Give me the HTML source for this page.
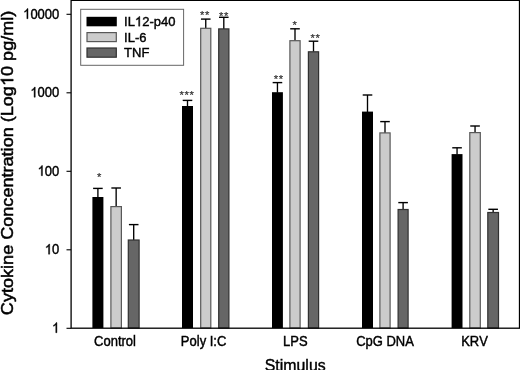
<!DOCTYPE html>
<html><head><meta charset="utf-8"><title>chart</title>
<style>
html,body{margin:0;padding:0;background:#fff;}
body{width:520px;height:370px;overflow:hidden;}
svg{display:block;font-family:"Liberation Sans",sans-serif;filter:grayscale(1) blur(0.3px);}
text{font-kerning:none;stroke:#000;stroke-width:4.0;}
</style></head><body>
<svg width="520" height="370" viewBox="0 0 520 370">
<rect x="0" y="0" width="520" height="370" fill="#fff"/>

<line x1="97.90" y1="188.40" x2="97.90" y2="197.50" stroke="#000" stroke-width="1.35"/>
<line x1="93.10" y1="188.40" x2="102.70" y2="188.40" stroke="#000" stroke-width="1.4"/>
<rect x="92.40" y="197.00" width="11.00" height="131.00" fill="#000"/>
<line x1="116.15" y1="188.00" x2="116.15" y2="206.60" stroke="#000" stroke-width="1.35"/>
<line x1="111.35" y1="188.00" x2="120.95" y2="188.00" stroke="#000" stroke-width="1.4"/>
<rect x="110.90" y="206.60" width="10.50" height="121.40" fill="#cccccc" stroke="#585858" stroke-width="1.2"/>
<line x1="133.70" y1="224.60" x2="133.70" y2="240.00" stroke="#000" stroke-width="1.35"/>
<line x1="128.90" y1="224.60" x2="138.50" y2="224.60" stroke="#000" stroke-width="1.4"/>
<rect x="128.30" y="240.00" width="10.80" height="88.00" fill="#666666" stroke="#303030" stroke-width="1.2"/>
<line x1="187.50" y1="100.40" x2="187.50" y2="106.50" stroke="#000" stroke-width="1.35"/>
<line x1="182.70" y1="100.40" x2="192.30" y2="100.40" stroke="#000" stroke-width="1.4"/>
<rect x="182.00" y="106.00" width="11.00" height="222.00" fill="#000"/>
<line x1="205.75" y1="19.10" x2="205.75" y2="28.30" stroke="#000" stroke-width="1.35"/>
<line x1="200.95" y1="19.10" x2="210.55" y2="19.10" stroke="#000" stroke-width="1.4"/>
<rect x="200.70" y="28.30" width="10.10" height="299.70" fill="#cccccc" stroke="#585858" stroke-width="1.2"/>
<line x1="223.80" y1="17.30" x2="223.80" y2="28.90" stroke="#000" stroke-width="1.35"/>
<line x1="219.00" y1="17.30" x2="228.60" y2="17.30" stroke="#000" stroke-width="1.4"/>
<rect x="218.70" y="28.90" width="10.20" height="299.10" fill="#666666" stroke="#303030" stroke-width="1.2"/>
<line x1="277.45" y1="82.60" x2="277.45" y2="92.70" stroke="#000" stroke-width="1.35"/>
<line x1="272.65" y1="82.60" x2="282.25" y2="82.60" stroke="#000" stroke-width="1.4"/>
<rect x="272.00" y="92.20" width="10.90" height="235.80" fill="#000"/>
<line x1="295.00" y1="28.80" x2="295.00" y2="40.70" stroke="#000" stroke-width="1.35"/>
<line x1="290.20" y1="28.80" x2="299.80" y2="28.80" stroke="#000" stroke-width="1.4"/>
<rect x="289.90" y="40.70" width="10.20" height="287.30" fill="#cccccc" stroke="#585858" stroke-width="1.2"/>
<line x1="313.50" y1="41.20" x2="313.50" y2="51.80" stroke="#000" stroke-width="1.35"/>
<line x1="308.70" y1="41.20" x2="318.30" y2="41.20" stroke="#000" stroke-width="1.4"/>
<rect x="308.40" y="51.80" width="10.20" height="276.20" fill="#666666" stroke="#303030" stroke-width="1.2"/>
<line x1="367.50" y1="95.00" x2="367.50" y2="112.10" stroke="#000" stroke-width="1.35"/>
<line x1="362.70" y1="95.00" x2="372.30" y2="95.00" stroke="#000" stroke-width="1.4"/>
<rect x="362.00" y="111.60" width="11.00" height="216.40" fill="#000"/>
<line x1="385.00" y1="121.60" x2="385.00" y2="132.90" stroke="#000" stroke-width="1.35"/>
<line x1="380.20" y1="121.60" x2="389.80" y2="121.60" stroke="#000" stroke-width="1.4"/>
<rect x="379.90" y="132.90" width="10.20" height="195.10" fill="#cccccc" stroke="#585858" stroke-width="1.2"/>
<line x1="403.10" y1="202.60" x2="403.10" y2="209.50" stroke="#000" stroke-width="1.35"/>
<line x1="398.30" y1="202.60" x2="407.90" y2="202.60" stroke="#000" stroke-width="1.4"/>
<rect x="398.10" y="209.50" width="10.00" height="118.50" fill="#666666" stroke="#303030" stroke-width="1.2"/>
<line x1="457.05" y1="147.80" x2="457.05" y2="154.60" stroke="#000" stroke-width="1.35"/>
<line x1="452.25" y1="147.80" x2="461.85" y2="147.80" stroke="#000" stroke-width="1.4"/>
<rect x="451.60" y="154.10" width="10.90" height="173.90" fill="#000"/>
<line x1="475.05" y1="126.00" x2="475.05" y2="132.60" stroke="#000" stroke-width="1.35"/>
<line x1="470.25" y1="126.00" x2="479.85" y2="126.00" stroke="#000" stroke-width="1.4"/>
<rect x="469.80" y="132.60" width="10.50" height="195.40" fill="#cccccc" stroke="#585858" stroke-width="1.2"/>
<line x1="493.15" y1="209.30" x2="493.15" y2="212.50" stroke="#000" stroke-width="1.35"/>
<line x1="488.35" y1="209.30" x2="497.95" y2="209.30" stroke="#000" stroke-width="1.4"/>
<rect x="487.80" y="212.50" width="10.70" height="115.50" fill="#666666" stroke="#303030" stroke-width="1.2"/>
<rect x="71.1" y="0.35" width="448.4" height="327.85" fill="none" stroke="#000" stroke-width="1.3"/>
<line x1="66.5" y1="14.3" x2="71.1" y2="14.3" stroke="#000" stroke-width="1.1"/>
<path transform="translate(23.16,18.70) scale(0.00635,-0.00686)" d="M763 0H583V1147Q518 1085 412.5 1023Q307 961 223 930V1104Q374 1175 487 1276Q600 1377 647 1472H763Z" fill="#000" stroke="#000" stroke-width="63.0"/>
<text transform="translate(30.39,18.70) scale(0.1,0.1080)" font-size="130" text-anchor="start" fill="#000" >0000</text>
<line x1="66.5" y1="92.8" x2="71.1" y2="92.8" stroke="#000" stroke-width="1.1"/>
<path transform="translate(30.39,97.20) scale(0.00635,-0.00686)" d="M763 0H583V1147Q518 1085 412.5 1023Q307 961 223 930V1104Q374 1175 487 1276Q600 1377 647 1472H763Z" fill="#000" stroke="#000" stroke-width="63.0"/>
<text transform="translate(37.62,97.20) scale(0.1,0.1080)" font-size="130" text-anchor="start" fill="#000" >000</text>
<line x1="66.5" y1="171.3" x2="71.1" y2="171.3" stroke="#000" stroke-width="1.1"/>
<path transform="translate(37.62,175.70) scale(0.00635,-0.00686)" d="M763 0H583V1147Q518 1085 412.5 1023Q307 961 223 930V1104Q374 1175 487 1276Q600 1377 647 1472H763Z" fill="#000" stroke="#000" stroke-width="63.0"/>
<text transform="translate(44.84,175.70) scale(0.1,0.1080)" font-size="130" text-anchor="start" fill="#000" >00</text>
<line x1="66.5" y1="249.8" x2="71.1" y2="249.8" stroke="#000" stroke-width="1.1"/>
<path transform="translate(44.84,254.20) scale(0.00635,-0.00686)" d="M763 0H583V1147Q518 1085 412.5 1023Q307 961 223 930V1104Q374 1175 487 1276Q600 1377 647 1472H763Z" fill="#000" stroke="#000" stroke-width="63.0"/>
<text transform="translate(52.07,254.20) scale(0.1,0.1080)" font-size="130" text-anchor="start" fill="#000" >0</text>
<line x1="66.5" y1="328.3" x2="71.1" y2="328.3" stroke="#000" stroke-width="1.1"/>
<path transform="translate(52.07,332.70) scale(0.00635,-0.00686)" d="M763 0H583V1147Q518 1085 412.5 1023Q307 961 223 930V1104Q374 1175 487 1276Q600 1377 647 1472H763Z" fill="#000" stroke="#000" stroke-width="63.0"/>
<rect x="80.7" y="9.3" width="102.9" height="56" fill="#fff" stroke="#666" stroke-width="1"/>
<rect x="86.5" y="16.8" width="30.3" height="9.5" fill="#000"/>
<rect x="87" y="32.6" width="29.3" height="9" fill="#cccccc" stroke="#585858" stroke-width="1.2"/>
<rect x="87" y="48.0" width="29.3" height="9.2" fill="#666666" stroke="#303030" stroke-width="1.2"/>
<text transform="translate(124.10,26.20) scale(0.1,0.1040)" font-size="130" text-anchor="start" fill="#000" >IL</text>
<path transform="translate(134.94,26.20) scale(0.00635,-0.00660)" d="M763 0H583V1147Q518 1085 412.5 1023Q307 961 223 930V1104Q374 1175 487 1276Q600 1377 647 1472H763Z" fill="#000" stroke="#000" stroke-width="63.0"/>
<text transform="translate(142.17,26.20) scale(0.1,0.1040)" font-size="130" text-anchor="start" fill="#000" >2-p40</text>
<text transform="translate(124.10,41.60) scale(0.1,0.1040)" font-size="130" text-anchor="start" fill="#000" >IL-6</text>
<text transform="translate(124.10,57.20) scale(0.1,0.1040)" font-size="130" text-anchor="start" fill="#000" >TNF</text>
<text transform="translate(99.40,181.00) scale(0.1)" font-size="112" letter-spacing="6.4" text-anchor="middle" fill="#333" style="stroke:#333;stroke-width:2">*</text>
<text transform="translate(186.90,98.80) scale(0.1)" font-size="112" letter-spacing="6.4" text-anchor="middle" fill="#333" style="stroke:#333;stroke-width:2">***</text>
<text transform="translate(204.90,19.30) scale(0.1)" font-size="112" letter-spacing="6.4" text-anchor="middle" fill="#333" style="stroke:#333;stroke-width:2">**</text>
<text transform="translate(224.10,19.90) scale(0.1)" font-size="112" letter-spacing="6.4" text-anchor="middle" fill="#333" style="stroke:#333;stroke-width:2">**</text>
<text transform="translate(278.80,83.00) scale(0.1)" font-size="112" letter-spacing="6.4" text-anchor="middle" fill="#333" style="stroke:#333;stroke-width:2">**</text>
<text transform="translate(295.00,29.00) scale(0.1)" font-size="112" letter-spacing="6.4" text-anchor="middle" fill="#333" style="stroke:#333;stroke-width:2">*</text>
<text transform="translate(315.50,41.60) scale(0.1)" font-size="112" letter-spacing="6.4" text-anchor="middle" fill="#333" style="stroke:#333;stroke-width:2">**</text>
<text transform="translate(115.00,346.30) scale(0.1,0.1080)" font-size="130" text-anchor="middle" fill="#000" >Control</text>
<text transform="translate(203.60,346.30) scale(0.1,0.1080)" font-size="130" text-anchor="middle" fill="#000" >Poly I:C</text>
<text transform="translate(295.30,346.30) scale(0.1,0.1080)" font-size="130" text-anchor="middle" fill="#000" >LPS</text>
<text transform="translate(385.00,346.30) scale(0.1,0.1080)" font-size="130" text-anchor="middle" fill="#000" >CpG DNA</text>
<text transform="translate(474.50,346.30) scale(0.1,0.1080)" font-size="130" text-anchor="middle" fill="#000" >KRV</text>
<text transform="translate(295.20,371.10) scale(0.1,0.1080)" font-size="159.0" text-anchor="middle" fill="#000" >Stimulus</text>
<text transform="translate(13.2,162.9) rotate(-90) scale(0.10450,0.1) translate(-1456.7,0)" font-size="173.0" fill="#000" style="stroke-width:5">Cytokine Concentration (Log</text>
<text transform="translate(13.2,162.9) rotate(-90) scale(0.10450,0.1) translate(831.8,0)" font-size="173.0" fill="#000" style="stroke-width:5">0 pg/ml)</text>
<path transform="translate(13.2,162.9) rotate(-90) scale(1.045,1) translate(73.56,0) scale(0.00845,-0.00845)" d="M763 0H583V1147Q518 1085 412.5 1023Q307 961 223 930V1104Q374 1175 487 1276Q600 1377 647 1472H763Z" fill="#000" stroke="#000" stroke-width="59.2"/>
</svg></body></html>
